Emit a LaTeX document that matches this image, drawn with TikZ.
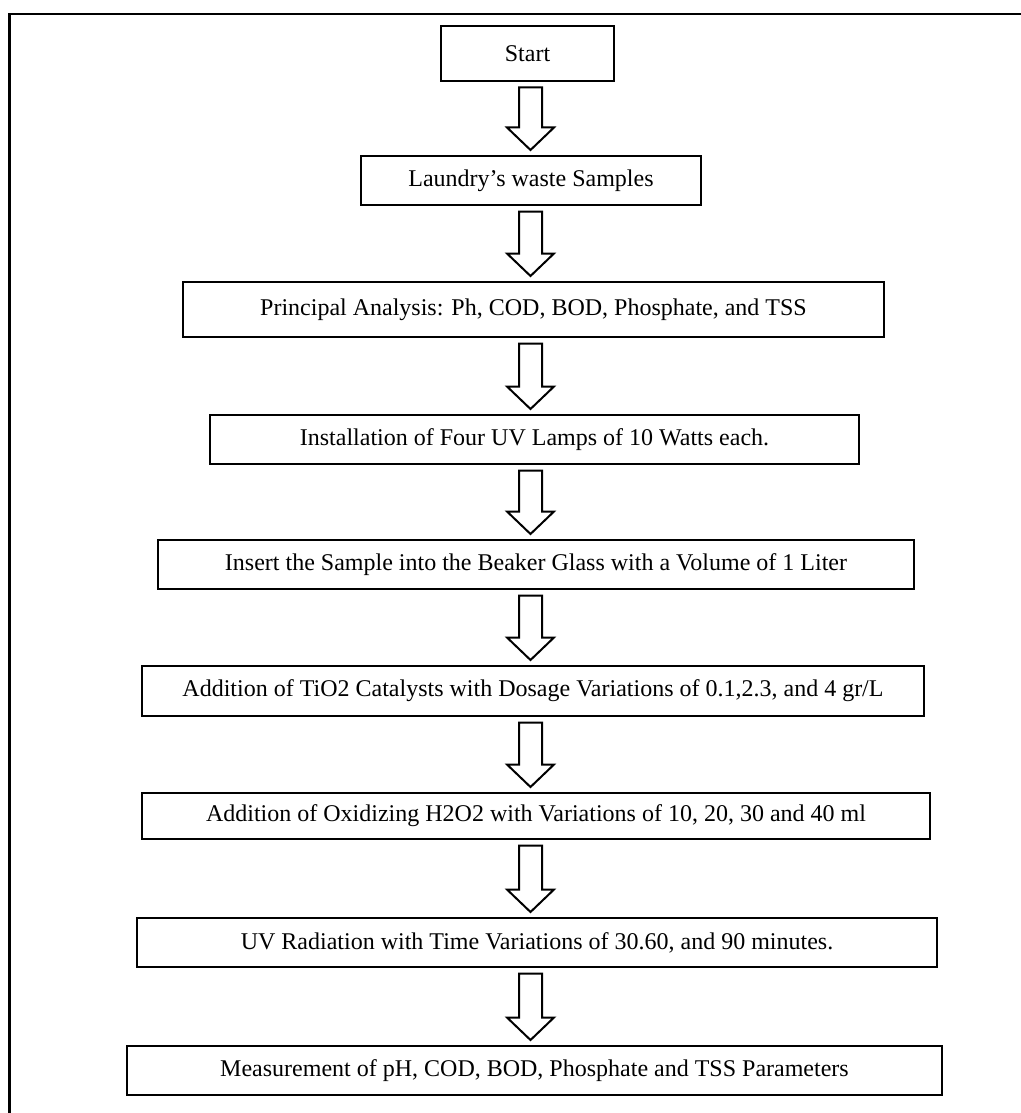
\documentclass[tikz,border=0pt]{standalone}
\usepackage{fontspec}
\setmainfont{Liberation Serif}
\usetikzlibrary{calc}
\tikzset{
  stepbox/.style={draw=black, line width=2pt, inner sep=0pt, align=center,
    font=\fontsize{24}{28}\selectfont, text=black},
  blockarr/.style={draw=black, line width=2pt, line join=miter, fill=white},
  frameline/.style={draw=black, line width=2.6pt}
}
\begin{document}
\begin{tikzpicture}[x=1pt,y=-1pt]
\useasboundingbox (0,0) rectangle (1020,1113);
\draw[frameline] (9.3,1130) -- (9.3,14) -- (1035,14);

\node[stepbox, minimum width=173pt, minimum height=55pt] (start) at (527.5,53.5) {Start};
\node[stepbox, minimum width=340pt, minimum height=49pt] (laundry) at (531,180.5) {Laundry’s waste Samples};
\node[stepbox, minimum width=701pt, minimum height=55pt] (principal) at (533.5,309.5) {Principal Analysis: Ph, COD, BOD, Phosphate, and TSS};
\node[stepbox, minimum width=649pt, minimum height=49pt] (install) at (534.5,439.5) {Installation of Four UV Lamps of 10 Watts each.};
\node[stepbox, minimum width=756pt, minimum height=49pt] (insert) at (536,564.5) {Insert the Sample into the Beaker Glass with a Volume of 1 Liter};
\node[stepbox, minimum width=782pt, minimum height=50pt] (tio) at (533,691) {Addition of TiO2 Catalysts with Dosage Variations of 0.1,2.3, and 4 gr/L};
\node[stepbox, minimum width=788pt, minimum height=46pt] (hoo) at (536,816) {\raisebox{-2pt}{Addition of Oxidizing H2O2 with Variations of 10, 20, 30 and 40 ml}};
\node[stepbox, minimum width=800pt, minimum height=49pt] (uv) at (537,942.5) {UV Radiation with Time Variations of 30.60, and 90 minutes.};
\node[stepbox, minimum width=815pt, minimum height=49pt] (meas) at (534.5,1070.5) {Measurement of pH, COD, BOD, Phosphate and TSS Parameters};

\foreach \a/\b in {start/laundry, laundry/principal, principal/install, install/insert,
                   insert/tio, tio/hoo, hoo/uv, uv/meas}{
  \path[blockarr] let \p1=(\a.south), \p2=(\b.north) in
    (519pt,\y1-5.5pt) -- (542pt,\y1-5.5pt) -- (542pt,\y2+27.5pt) -- (554pt,\y2+27.5pt)
    -- (530.5pt,\y2+5pt) -- (507pt,\y2+27.5pt) -- (519pt,\y2+27.5pt) -- cycle;
}
\end{tikzpicture}
\end{document}
